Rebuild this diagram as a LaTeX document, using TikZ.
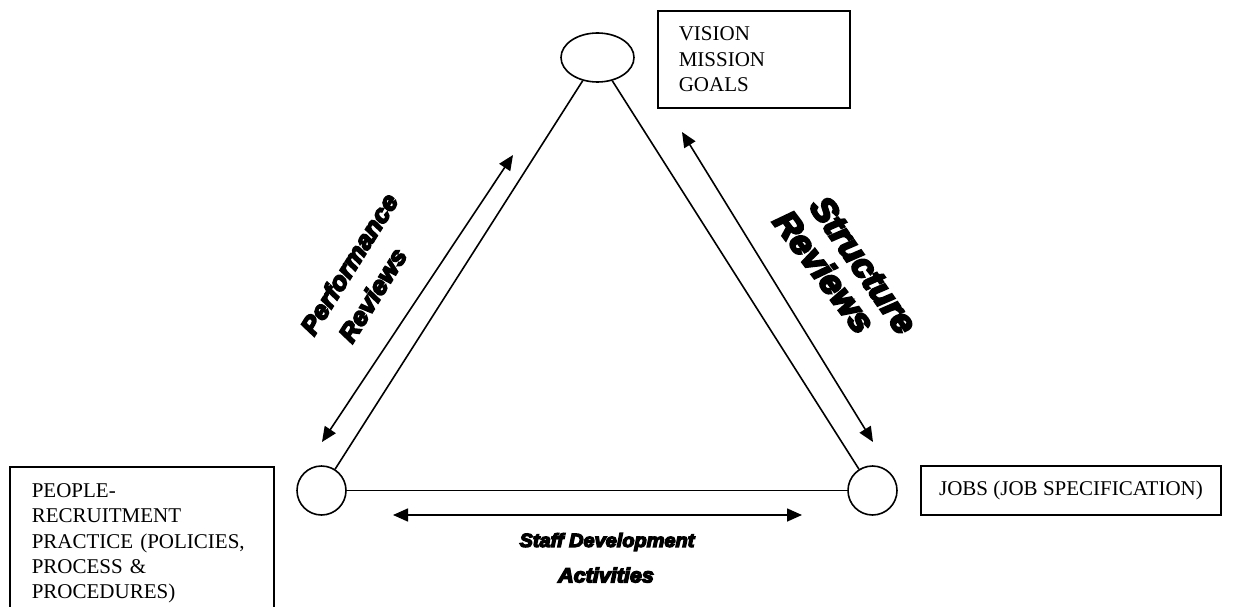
\documentclass[tikz,border=0pt]{standalone}
\usepackage{fontspec}
\setmainfont{Liberation Serif}
\newfontfamily\wafont{Liberation Sans}[BoldItalicFeatures={FakeBold=7,FakeStretch=1.05}]
\usetikzlibrary{shapes.geometric,arrows.meta}
\tikzset{
  line/.style={line width=1.6pt},
  dbl/.style={line width=1.6pt,{Triangle[length=15pt,width=13pt]}-{Triangle[length=15pt,width=13pt]}},
  boxnode/.style={draw,line width=1.6pt,font=\fontsize{21}{25.2}\selectfont},
  vertex/.style={draw,line width=1.6pt,circle,minimum size=49pt,inner sep=0pt},
  wa/.style={inner sep=0pt},
}
\begin{document}
\begin{tikzpicture}[x=1pt,y=-1pt]
\useasboundingbox (0,0) rectangle (1236,607);
\clip (0,0) rectangle (1236,607);
% vertices
\node[draw,line width=1.6pt,ellipse,minimum width=73pt,minimum height=49pt,inner sep=0pt] (top) at (597.5,57.5) {};
\node[vertex] (left) at (321.5,490.5) {};
\node[vertex] (right) at (872.5,490.5) {};
% boxes
\node[boxnode,anchor=north west,minimum width=192pt,minimum height=97pt,text width=150pt,inner xsep=21pt,align=left] (vision) at (657,10) {VISION\\MISSION\\GOALS};
\node[boxnode,anchor=north west,minimum width=264pt,text width=220pt,inner xsep=22pt,inner ysep=17pt,align=left] (people) at (9,466) {PEOPLE-\\RECRUITMENT\\PRACTICE (POLICIES,\\PROCESS \&\\PROCEDURES)};
\node[boxnode,minimum width=300pt,minimum height=49pt,inner sep=0pt] (jobs) at (1071,490.5) {JOBS (JOB SPECIFICATION)};
% triangle
\draw[line] (top) -- (left);
\draw[line] (left) -- (right);
\draw[line] (right) -- (top);
% arrows
\coordinate (pl1) at (322,442);
\coordinate (pl2) at (513,155);
\coordinate (pr1) at (682,132);
\coordinate (pr2) at (873,442);
\coordinate (ph1) at (393,515);
\coordinate (ph2) at (802,515);
\draw[dbl] (pl1) -- (pl2);
\draw[dbl] (pr1) -- (pr2);
\draw[dbl] (ph1) -- (ph2);
% labels
\node[wa,font=\wafont\bfseries\itshape\fontsize{25}{25}\selectfont,rotate=58] (perf) at (349,264) {Performance};
\node[wa,font=\wafont\bfseries\itshape\fontsize{25}{25}\selectfont,rotate=58] (rev1) at (372.5,295) {Reviews};
\node[wa,font=\wafont\bfseries\itshape\fontsize{34}{34}\selectfont,rotate=-55] (struc) at (863.5,265) {Structure};
\node[wa,font=\wafont\bfseries\itshape\fontsize{34}{34}\selectfont,rotate=-53] (rev2) at (824.5,271.5) {Reviews};
\node[wa,font=\wafont\bfseries\itshape\fontsize{19}{20}\selectfont] (staff) at (607,542) {Staff Development};
\node[wa,font=\wafont\bfseries\itshape\fontsize{20.5}{21}\selectfont] (act) at (606,575) {Activities};
\end{tikzpicture}
\end{document}
